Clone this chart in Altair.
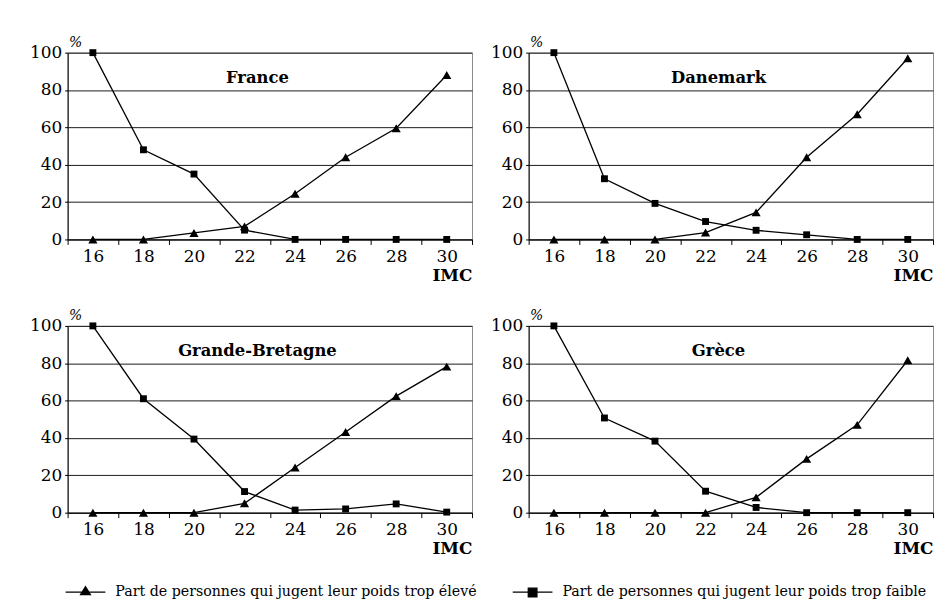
import altair as alt
import pandas as pd

imc = [16, 18, 20, 22, 24, 26, 28, 30]
countries = ["France", "Danemark", "Grande-Bretagne", "Grèce"]
label_high = "Part de personnes qui jugent leur poids trop élevé"
label_low = "Part de personnes qui jugent leur poids trop faible"
series = [label_high, label_low]
y_ticks = [0, 20, 40, 60, 80, 100]

france_high = [0, 0, 3.5, 7, 24.5, 44, 59.5, 88]
france_low = [100, 48, 35, 5, 0, 0, 0, 0]
danemark_high = [0, 0, 0, 3.7, 14.5, 44, 67, 97]
danemark_low = [100, 32.5, 19.3, 9.6, 4.9, 2.5, 0, 0]
gb_high = [0, 0, 0, 5, 24.2, 43.2, 62.4, 78.2]
gb_low = [100, 61, 39.4, 11.3, 1.4, 2, 4.7, 0.3]
grece_high = [0, 0, 0, 0, 8.2, 28.8, 47, 81.6]
grece_low = [100, 50.7, 38.3, 11.5, 2.8, 0, 0, 0]

FONT = "DejaVu Serif"
# legend symbols: short line with the marker on it
TRI_LEG = "M-1,0H1M-0.25,0.12L0,-0.28L0.25,0.12Z"
SQ_LEG = "M-1,0H1M-0.22,-0.2H0.22V0.24H-0.22Z"

X_SCALE = alt.Scale(type="band", paddingInner=0, paddingOuter=0)
X_AXIS = alt.Axis(
    labelAngle=0, tickBand="extent", tickSize=5, labelPadding=4,
    labelFontSize=17, titleAnchor="end", titleFontWeight="bold",
    titleFontSize=17, titlePadding=3, domainColor="black",
    tickColor="black", grid=False, labelColor="black",
    titleColor="black", labelFont=FONT, titleFont=FONT,
)
Y_SCALE = alt.Scale(domain=[0, 100], nice=False)
Y_AXIS = alt.Axis(
    values=y_ticks, title="%", titleAngle=0,
    titleAlign="left", titleBaseline="bottom", titleX=1, titleY=-3,
    titleFontStyle="italic", titleFontWeight="normal", titleFontSize=14,
    grid=True, gridColor="#1a1a1a", gridOpacity=1, tickSize=3,
    labelPadding=3, labelFontSize=17, domainColor="black",
    tickColor="black", labelColor="black", titleColor="black",
    labelFont=FONT, titleFont=FONT, labelOverlap=False,
)


def panel(name, high, low):
    df = pd.DataFrame({
        "IMC": imc + imc,
        "val": high + low,
        "serie": [label_high] * len(imc) + [label_low] * len(imc),
    })
    x = alt.X("IMC:O", title="IMC", scale=X_SCALE, axis=X_AXIS)
    y = alt.Y("val:Q", title="%", scale=Y_SCALE, axis=Y_AXIS)
    line = alt.Chart(df).mark_line(color="black", strokeWidth=1.3).encode(
        x=x, y=y, detail="serie:N"
    )
    pts = alt.Chart(df).mark_point(
        filled=True, color="black", opacity=1
    ).encode(
        x=x,
        y=y,
        shape=alt.Shape(
            "serie:N",
            scale=alt.Scale(domain=series, range=["triangle-up", "square"]),
            legend=None,
        ),
        size=alt.Size(
            "serie:N",
            scale=alt.Scale(domain=series, range=[85, 48]),
            legend=None,
        ),
    )
    label = alt.Chart(pd.DataFrame({"pays": [name]})).mark_text(
        font=FONT, fontSize=16.5, fontWeight="bold", color="black",
        baseline="middle", align="center", dx=13,
    ).encode(
        x=alt.XDatum(22, type="ordinal", title="IMC", scale=X_SCALE,
                     axis=X_AXIS),
        y=alt.YDatum(86.5, title="%", scale=Y_SCALE, axis=Y_AXIS),
        text="pays:N",
    )
    return alt.layer(line, pts, label).properties(width=407, height=188)


p1 = panel(countries[0], france_high, france_low)
p2 = panel(countries[1], danemark_high, danemark_low)
p3 = panel(countries[2], gb_high, gb_low)
p4 = panel(countries[3], grece_high, grece_low)

leg_df = pd.DataFrame({"serie": series})
leg_x = alt.X(
    "serie:N",
    scale=alt.Scale(type="band", domain=series, range=[0, 900],
                    paddingInner=0, paddingOuter=0),
    bandPosition=0,
    axis=None,
)
leg_sym = alt.Chart(leg_df).mark_point(
    filled=True, color="black", stroke="black", strokeWidth=1.2,
    size=1600, opacity=1, xOffset=18,
).encode(
    x=leg_x,
    shape=alt.Shape("serie:N",
                    scale=alt.Scale(domain=series, range=[TRI_LEG, SQ_LEG]),
                    legend=None),
)
leg_txt = alt.Chart(leg_df).mark_text(
    align="left", baseline="middle", dx=48, fontSize=14.3, font=FONT,
    color="black",
).encode(x=leg_x, text="serie:N")
legend = alt.layer(leg_sym, leg_txt).properties(
    width=870, height=20, view=alt.ViewBackground(strokeOpacity=0)
)

grid = alt.vconcat(
    alt.hconcat(p1, p2, spacing=17),
    alt.hconcat(p3, p4, spacing=17),
    spacing=24,
)

chart = alt.vconcat(grid, legend, spacing=25).resolve_scale(
    shape="independent"
).properties(
    padding={"left": 21, "top": 25, "right": 2, "bottom": 5},
).configure(
    font=FONT,
).configure_view(
    stroke="#8a8a8a", strokeWidth=1,
)

chart.save("out.html", embed_options={"renderer": "svg", "actions": False})
